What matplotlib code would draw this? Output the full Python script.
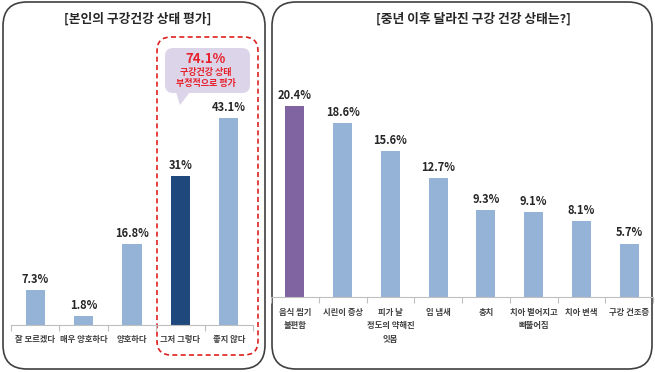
import matplotlib
matplotlib.use("Agg")
import matplotlib.pyplot as plt
from matplotlib.patches import FancyBboxPatch, Polygon

plt.rcParams['font.family'] = ['Noto Sans CJK KR', 'DejaVu Sans']

# ---- data ----
left_title = "[본인의 구강건강 상태 평가]"
left_cats = ["잘 모르겠다", "매우 양호하다", "양호하다", "그저 그렇다", "좋지 않다"]
left_vals = [7.3, 1.8, 16.8, 31.0, 43.1]
left_labels = ["7.3%", "1.8%", "16.8%", "31%", "43.1%"]

right_title = "[중년 이후 달라진 구강 건강 상태는?]"
right_cats = ["음식 씹기\n불편함", "시린이 증상", "피가 날\n정도의 약해진\n잇몸", "입 냄새",
              "충치", "치아 벌어지고\n삐뚤어짐", "치아 변색", "구강 건조증"]
right_vals = [20.4, 18.6, 15.6, 12.7, 9.3, 9.1, 8.1, 5.7]
right_labels = ["20.4%", "18.6%", "15.6%", "12.7%", "9.3%", "9.1%", "8.1%", "5.7%"]

callout_main = "74.1%"
callout_sub = "구강건강 상태\n부정적으로 평가"

LIGHT = "#95B3D7"
NAVY = "#1F497D"
PURPLE = "#8064A2"
left_colors = [LIGHT, LIGHT, LIGHT, NAVY, LIGHT]
right_colors = [PURPLE] + [LIGHT] * 7

W, H = 655, 372
fig = plt.figure(figsize=(W / 100, H / 100), dpi=100)

# background / decoration axes in pixel units
bg = fig.add_axes([0, 0, 1, 1])
bg.set_xlim(0, W)
bg.set_ylim(H, 0)
bg.axis('off')

def rbox(x0, y0, x1, y1, r, **kw):
    p = FancyBboxPatch((x0 + r, y0 + r), (x1 - x0) - 2 * r, (y1 - y0) - 2 * r,
                       boxstyle=f"round,pad={r}", **kw)
    bg.add_patch(p)
    return p

rbox(3, 2, 265, 369, 24, facecolor='white', edgecolor='#404040', linewidth=1.2)
rbox(272, 2, 652, 369, 24, facecolor='white', edgecolor='#404040', linewidth=1.2)

bg.text(138, 19, left_title, ha='center', va='center', fontsize=9.2, fontweight='bold', color='#262626')
bg.text(473, 19, right_title, ha='center', va='center', fontsize=9.2, fontweight='bold', color='#262626')

# red dashed box
rbox(157, 37, 258, 355, 14, facecolor='none', edgecolor='#E02020', linewidth=1.2, linestyle=(0, (3, 2)))

# callout
CALL = "#DCD4E8"
rbox(165, 48, 250, 93, 8, facecolor=CALL, edgecolor='none')
bg.add_patch(Polygon([(176, 92), (190, 92), (180, 105)], closed=True, facecolor=CALL, edgecolor='none'))
bg.text(206, 59, callout_main, ha='center', va='center', fontsize=9.5, fontweight='bold', color='#E8202A')
bg.text(206, 78, callout_sub, ha='center', va='center', fontsize=6.5, fontweight='bold', color='#E8202A',
        linespacing=1.25)

def make_axes(x0, x1, base, top, scale):
    ax = fig.add_axes([x0 / W, (H - base) / H, (x1 - x0) / W, (base - top) / H])
    ax.set_ylim(0, (base - top) / scale)
    ax.patch.set_alpha(0)
    for s in ['top', 'right', 'left']:
        ax.spines[s].set_visible(False)
    ax.spines['bottom'].set_color('#BFBFBF')
    ax.set_yticks([])
    return ax

def draw(ax, cats, vals, labels, colors, labelpad):
    n = len(cats)
    xs = list(range(n))
    ax.bar(xs, vals, width=0.4, color=colors)
    ax.set_xlim(-0.5, n - 0.5)
    for x, v, l in zip(xs, vals, labels):
        ax.annotate(l, (x, v), xytext=(0, 3), textcoords='offset points', ha='center', va='bottom',
                    fontsize=8, fontweight='bold', color='#262626')
    ax.set_xticks(xs)
    ax.set_xticklabels(cats, fontsize=6, fontweight='bold', color='#404040', linespacing=1.6, va='top')
    ax.tick_params(axis='x', which='major', length=0, pad=labelpad)
    ax.set_xticks([i - 0.5 for i in range(n + 1)], minor=True)
    ax.tick_params(axis='x', which='minor', length=4, color='#BFBFBF', width=0.8)

axL = make_axes(11, 253, 325, 40, 207 / 43.1)
draw(axL, left_cats, left_vals, left_labels, left_colors, 7)

axR = make_axes(271, 653, 297, 40, 191 / 20.4)
draw(axR, right_cats, right_vals, right_labels, right_colors, 8)

fig.savefig("out.png", dpi=100)
